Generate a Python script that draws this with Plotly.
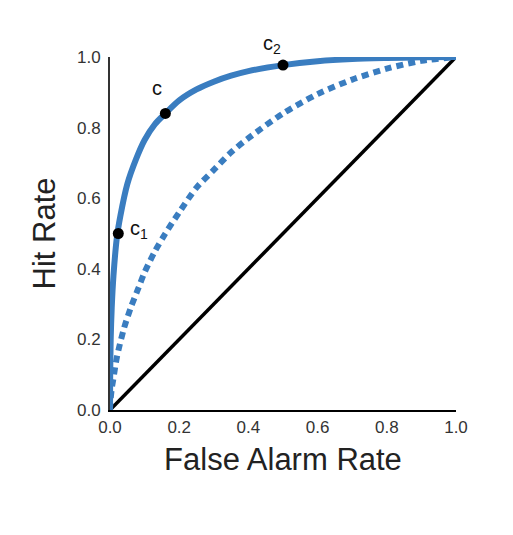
import plotly.graph_objects as go

# Solid ROC curve (higher sensitivity)
fa_solid = [0, 0.0005, 0.002, 0.005, 0.01, 0.02, 0.03, 0.05, 0.075, 0.10, 0.13, 0.16,
            0.20, 0.25, 0.30, 0.35, 0.40, 0.50, 0.60, 0.70, 0.80, 0.90, 1.0]
hit_solid = [0, 0.09, 0.20, 0.29, 0.38, 0.49, 0.55, 0.64, 0.71, 0.765, 0.81, 0.84,
             0.877, 0.908, 0.930, 0.947, 0.960, 0.977, 0.988, 0.994, 0.997, 0.999, 1.0]

# Dashed ROC curve (lower sensitivity)
fa_dashed = [0, 0.001, 0.005, 0.01, 0.02, 0.04, 0.06, 0.08, 0.10, 0.13, 0.16, 0.20,
             0.25, 0.30, 0.35, 0.40, 0.50, 0.60, 0.70, 0.80, 0.90, 1.0]
hit_dashed = [0, 0.02, 0.06, 0.09, 0.15, 0.23, 0.29, 0.34, 0.39, 0.45, 0.50, 0.56,
              0.63, 0.68, 0.73, 0.77, 0.84, 0.895, 0.936, 0.967, 0.989, 1.0]

# Chance line
fa_chance = [0, 1]
hit_chance = [0, 1]

# Criterion points
crit_fa = [0.024, 0.16, 0.50]
crit_hit = [0.50, 0.84, 0.977]
crit_labels = ["c<sub>1</sub>", "c", "c<sub>2</sub>"]
label_fa = [0.085, 0.135, 0.468]
label_hit = [0.51, 0.912, 1.035]

tick_vals = [0.0, 0.2, 0.4, 0.6, 0.8, 1.0]
tick_text = ["0.0", "0.2", "0.4", "0.6", "0.8", "1.0"]

blue = "#3a7dc0"
FONT = "Liberation Sans, Arial, sans-serif"

fig = go.Figure()
fig.add_trace(go.Scatter(x=fa_chance, y=hit_chance, mode="lines",
                         line=dict(color="black", width=3.5), hoverinfo="skip"))
fig.add_trace(go.Scatter(x=fa_dashed, y=hit_dashed, mode="lines",
                         line=dict(color=blue, width=6, dash="7px,5px", shape="spline", smoothing=0.8),
                         hoverinfo="skip"))
fig.add_trace(go.Scatter(x=fa_solid, y=hit_solid, mode="lines",
                         line=dict(color=blue, width=6, shape="spline", smoothing=0.8),
                         hoverinfo="skip"))
fig.add_trace(go.Scatter(x=crit_fa, y=crit_hit, mode="markers",
                         marker=dict(color="black", size=11), cliponaxis=False, hoverinfo="skip"))

for lx, ly, t in zip(label_fa, label_hit, crit_labels):
    fig.add_annotation(x=lx, y=ly, xref="paper", yref="paper", text=t, showarrow=False,
                       xanchor="center", yanchor="middle",
                       font=dict(family=FONT, size=20, color="#111111"))

fig.update_layout(
    width=513, height=535,
    margin=dict(l=110, r=57, t=57, b=125),
    paper_bgcolor="white", plot_bgcolor="white",
    showlegend=False,
    font=dict(family=FONT, color="#333333"),
)
fig.update_xaxes(range=[0, 1], tickvals=tick_vals, ticktext=tick_text,
                 showgrid=False, zeroline=False, showline=True, linecolor="black", linewidth=2,
                 ticks="outside", ticklen=1, tickcolor="rgba(0,0,0,0)",
                 tickfont=dict(size=17, color="#333333"),
                 title=dict(text="False Alarm Rate", font=dict(size=31, color="#222222"), standoff=12))
fig.update_yaxes(range=[0, 1], tickvals=tick_vals, ticktext=tick_text,
                 showgrid=False, zeroline=False, showline=True, linecolor="#333333", linewidth=2,
                 ticks="outside", ticklen=4, tickcolor="rgba(0,0,0,0)",
                 tickfont=dict(size=17, color="#333333"),
                 title=dict(text="Hit Rate", font=dict(size=31, color="#222222"), standoff=12))

fig.write_html("out.html")
